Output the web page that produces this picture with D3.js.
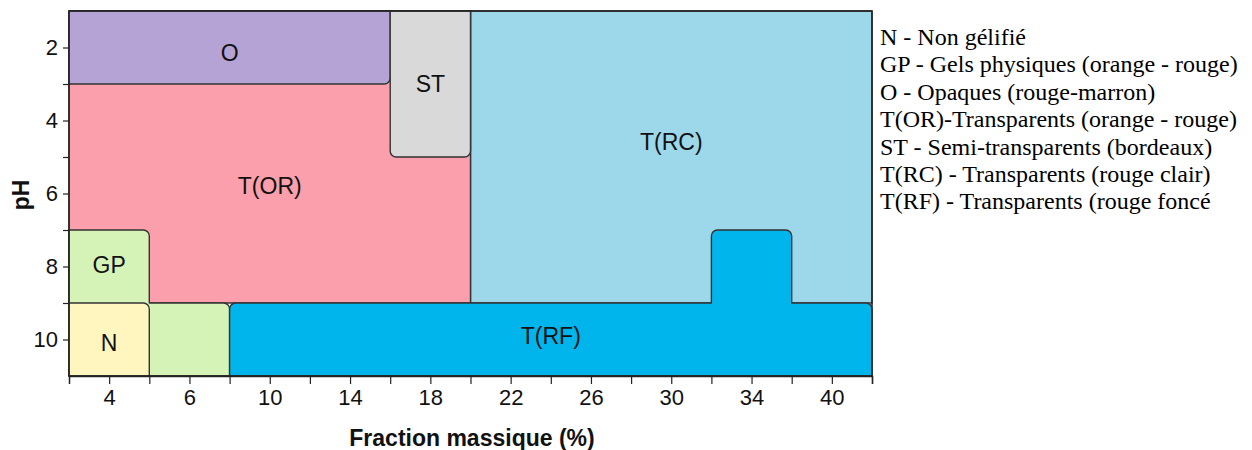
<!DOCTYPE html>
<html><head><meta charset="utf-8">
<script src="https://cdn.jsdelivr.net/npm/d3@7"></script>
<style>body{margin:0;background:#fff}svg{display:block}</style>
</head><body>
<svg id="chart" width="1252" height="450"></svg>
<script>
// x grid positions (fraction massique, %), evenly spaced on the axis
const xCategories = ["3","4","5","6","8","10","12","14","16","18","20","22","24","26","28","30","32","34","36","40","42"];
const xTickLabels = ["4","6","10","14","18","22","26","30","34","40"];
const yDomain = [1, 11];
const yTickLabels = [2, 4, 6, 8, 10];
const yMinorTicks = [3, 5, 7, 9];

// regions: [fraction, pH] vertices
const regionNames = ["T(RC)", "T(OR)", "O", "ST", "GP", "N", "T(RF)"];
const regionPolygons = [
  [["20",1],["42",1],["42",9],["20",9]],
  [["3",1],["20",1],["20",9],["3",9]],
  [["3",1],["16",1],["16",3],["3",3]],
  [["16",1],["20",1],["20",5],["16",5]],
  [["3",7],["5",7],["5",9],["8",9],["8",11],["3",11]],
  [["3",9],["5",9],["5",11],["3",11]],
  [["8",9],["32",9],["32",7],["36",7],["36",9],["42",9],["42",11],["8",11]]
];
const regionLabelPos = [["30",4.6],["10",5.8],["8",2.15],["18",3],["4",7.95],["4",10.1],["24",9.9]];

const legendLines = [
  "N - Non gélifié",
  "GP - Gels physiques (orange - rouge)",
  "O - Opaques (rouge-marron)",
  "T(OR)-Transparents (orange - rouge)",
  "ST - Semi-transparents (bordeaux)",
  "T(RC) - Transparents (rouge clair)",
  "T(RF) - Transparents (rouge foncé"
];

const regionColors = {"T(RC)":"#9dd7ea","T(OR)":"#fa9fab","O":"#b4a3d4","ST":"#d9d9d9","GP":"#d5f3b7","N":"#fff6bf","T(RF)":"#00b5ec"};

const svg = d3.select("#chart");
const L = 69, R = 872, T = 11, B = 376;
const x = d3.scalePoint().domain(xCategories).range([L, R]);
const y = d3.scaleLinear().domain(yDomain).range([T, B]);

function roundedPath(pts, r) {
  const p = d3.path();
  const n = pts.length;
  const P = pts.map(d => [x(d[0]), y(d[1])]);
  const onEdge = q => Math.abs(q[0]-L)<0.5 || Math.abs(q[1]-T)<0.5 || Math.abs(q[1]-B)<0.5;
  let area = 0;
  for (let i = 0; i < n; i++) { const a = P[i], b = P[(i+1)%n]; area += a[0]*b[1]-b[0]*a[1]; }
  const sgn = Math.sign(area);
  const s0 = P[n-1], s1 = P[0];
  p.moveTo((s0[0]+s1[0])/2, (s0[1]+s1[1])/2);
  for (let i = 0; i < n; i++) {
    const prev = P[(i-1+n)%n], cur = P[i], next = P[(i+1)%n];
    const cross = (cur[0]-prev[0])*(next[1]-cur[1]) - (cur[1]-prev[1])*(next[0]-cur[0]);
    const convex = Math.sign(cross) === sgn;
    if (convex && !onEdge(cur)) {
      p.arcTo(cur[0], cur[1], (cur[0]+next[0])/2, (cur[1]+next[1])/2, r);
    } else {
      p.lineTo(cur[0], cur[1]);
    }
  }
  p.closePath();
  return p.toString();
}

const g = svg.append("g");
g.selectAll("path.region").data(regionNames).join("path")
  .attr("class","region")
  .attr("d", (d,i) => roundedPath(regionPolygons[i], i < 2 ? 0.01 : 6))
  .attr("fill", d => regionColors[d])
  .attr("stroke", "#333")
  .attr("stroke-width", 1.4)
  .attr("stroke-linejoin", "round");

g.selectAll("text.rlab").data(regionNames).join("text")
  .attr("class","rlab")
  .attr("x", (d,i) => x(regionLabelPos[i][0]))
  .attr("y", (d,i) => y(regionLabelPos[i][1]))
  .attr("text-anchor","middle").attr("dominant-baseline","central")
  .attr("font-family","Liberation Sans, Arial, sans-serif").attr("font-size", 23)
  .attr("fill","#111").text(d => d);

// frame
svg.append("rect").attr("x", L).attr("y", T).attr("width", R-L).attr("height", B-T)
  .attr("fill","none").attr("stroke","#222").attr("stroke-width",1.5);

// x axis
const xAxis = d3.axisBottom(x).tickValues(xCategories.slice(1)).tickSize(8).tickPadding(5)
  .tickFormat(d => xTickLabels.includes(d) ? d : "");
const xa = svg.append("g").attr("transform", `translate(0,${B})`).call(xAxis);
xa.select(".domain").attr("stroke","#222").attr("stroke-width",1.5);
xa.selectAll(".tick line").attr("stroke","#222").attr("stroke-width",1.2);
xa.selectAll(".tick text").attr("font-family","Liberation Sans, Arial, sans-serif").attr("font-size",22).attr("fill","#111");

// y axis
const yAxis = d3.axisLeft(y).tickValues(yTickLabels.concat(yMinorTicks)).tickSize(6).tickPadding(5)
  .tickFormat(d => yTickLabels.includes(d) ? d : "");
const ya = svg.append("g").attr("transform", `translate(${L},0)`).call(yAxis);
ya.select(".domain").remove();
ya.selectAll(".tick line").attr("stroke","#222").attr("stroke-width",1.2);
ya.selectAll(".tick text").attr("font-family","Liberation Sans, Arial, sans-serif").attr("font-size",22).attr("fill","#111");

// axis titles
svg.append("text").attr("x", 472).attr("y", 446).attr("text-anchor","middle")
  .attr("font-family","Liberation Sans, Arial, sans-serif").attr("font-weight","bold").attr("font-size",23)
  .attr("fill","#111").text("Fraction massique (%)");
svg.append("text").attr("transform","translate(29,195) rotate(-90)").attr("text-anchor","middle")
  .attr("font-family","Liberation Sans, Arial, sans-serif").attr("font-weight","bold").attr("font-size",23)
  .attr("fill","#111").text("pH");

// legend
svg.append("g").selectAll("text").data(legendLines).join("text")
  .attr("x", 880).attr("y", (d,i) => 45 + i*27.4)
  .attr("font-family","Liberation Serif, Times New Roman, serif").attr("font-size",24)
  .attr("fill","#000").text(d => d);
</script>
</body></html>
